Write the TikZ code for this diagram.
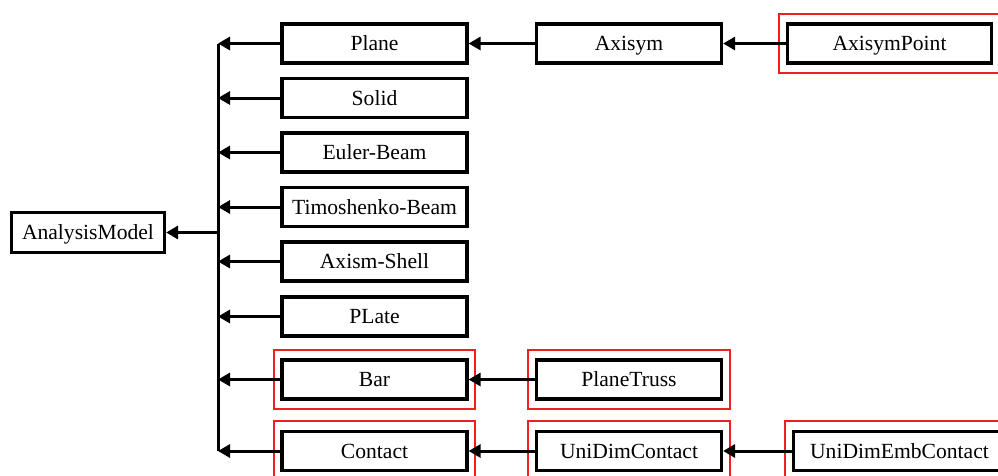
\documentclass[tikz,border=0pt]{standalone}
\usepackage{fontspec}
\setmainfont{Liberation Serif}
\usetikzlibrary{arrows.meta,fit}
\definecolor{frameRed}{RGB}{240,30,30}
\tikzset{
  cls/.style={draw=black, line width=3.2pt, fill=white, rectangle, inner sep=0pt,
    minimum width=185pt, minimum height=39pt, text height=14.3pt, text depth=0pt,
    font=\fontsize{21.6}{24}\selectfont},
  wide/.style={cls, minimum width=#1},
  arr/.style={line width=3pt, -{Triangle[length=12pt,width=13pt]}},
  busline/.style={line width=3pt},
  redframe/.style={draw=frameRed, line width=2pt, inner xsep=6.5pt, inner ysep=8.5pt}
}
\begin{document}
\begin{tikzpicture}[x=1pt,y=-1pt]
\clip (0,0) rectangle (998,475);
\fill[white] (0,0) rectangle (998,475);

% base class
\node[wide=153pt, minimum height=40pt] (model) at (88,232.5) {AnalysisModel};

% first level
\node[cls] (plane)   at (374.5,43.5)  {Plane};
\node[cls] (solid)   at (374.5,98)    {Solid};
\node[cls] (euler)   at (374.5,152.5) {Euler-Beam};
\node[cls] (timo)    at (374.5,207)   {Timoshenko-Beam};
\node[cls] (axshell) at (374.5,261.5) {Axism-Shell};
\node[cls] (plate)   at (374.5,316.5) {PLate};
\node[cls] (bar)     at (374.5,379.5) {Bar};
\node[cls] (contact) at (374.5,451)   {Contact};

% second level
\node[cls] (axisym)  at (629,43.5)  {Axisym};
\node[cls] (ptruss)  at (629,379.5) {PlaneTruss};
\node[cls] (udc)     at (629,451)   {UniDimContact};

% third level
\node[wide=204pt] (axpoint) at (889.5,43.5) {AxisymPoint};
\node[wide=212pt] (udec)    at (899.5,451)  {UniDimEmbContact};

% highlighted classes
\node[redframe, fit=(axpoint)] (fAxpoint) {};
\node[redframe, fit=(bar)]     (fBar)     {};
\node[redframe, fit=(ptruss)]  (fPtruss)  {};
\node[redframe, fit=(contact)] (fContact) {};
\node[redframe, fit=(udc)]     (fUdc)     {};
\node[redframe, fit=(udec)]    (fUdec)    {};

% inheritance bus
\coordinate (busTop) at (218,43.5);
\coordinate (busBot) at (218,451);
\draw[busline] (busTop) -- (busBot);

\foreach \n in {plane,solid,euler,timo,axshell,plate,bar,contact}
  \draw[arr] (\n.west) -- (\n.west -| busTop);

\draw[arr] (model.east -| busTop) -- (model.east);

\draw[arr] (axisym.west) -- (plane.east);
\draw[arr] (axpoint.west) -- (axisym.east);
\draw[arr] (ptruss.west) -- (bar.east);
\draw[arr] (udc.west) -- (contact.east);
\draw[arr] (udec.west) -- (udc.east);
\end{tikzpicture}
\end{document}
